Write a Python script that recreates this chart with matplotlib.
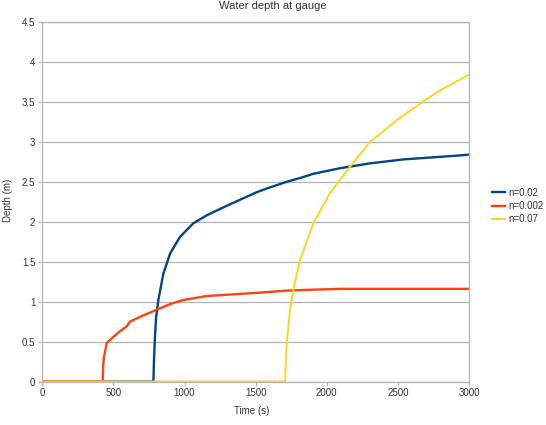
import matplotlib
matplotlib.use("Agg")
import matplotlib.pyplot as plt

plt.rcParams['font.family'] = ['Liberation Sans', 'DejaVu Sans']

# series (time in s, depth in m)
t_002 = [0, 781, 786, 792, 800, 816, 851, 898, 968, 1062, 1156, 1297, 1508, 1601,
         1719, 1836, 1906, 2094, 2164, 2300, 2539, 2700, 2937, 3000]
d_002 = [0, 0, 0.3, 0.56, 0.8, 1.02, 1.35, 1.6, 1.81, 1.98, 2.08, 2.2, 2.37, 2.43,
         2.5, 2.56, 2.6, 2.67, 2.69, 2.73, 2.78, 2.8, 2.83, 2.84]

t_0002 = [0, 425, 428, 433, 453, 488, 540, 593, 617, 700, 805, 900, 992, 1156,
          1508, 1742, 2094, 3000]
d_0002 = [0, 0, 0.2, 0.3, 0.48, 0.54, 0.62, 0.69, 0.75, 0.82, 0.9, 0.97, 1.02, 1.07,
          1.11, 1.14, 1.16, 1.16]

t_007 = [0, 1707, 1712, 1719, 1742, 1765, 1812, 1906, 2023, 2164, 2305, 2492,
         2633, 2774, 2937, 3000]
d_007 = [0, 0, 0.25, 0.48, 0.9, 1.15, 1.52, 1.98, 2.36, 2.69, 3.0, 3.27,
         3.45, 3.62, 3.78, 3.84]

labels = ["n=0.02", "n=0.002", "n=0.07"]
colors = ["#004586", "#ff420e", "#ffd320"]

fig = plt.figure(figsize=(5.46, 4.25), dpi=100)
ax = fig.add_axes([42.3 / 546, 1 - 381.5 / 425, (469 - 42.3) / 546, (381.5 - 22) / 425])

ax.plot(t_002, d_002, color=colors[0], lw=1.7, label=labels[0])
ax.plot(t_0002, d_0002, color=colors[1], lw=1.7, label=labels[1])
ax.plot(t_007, d_007, color=colors[2], lw=1.4, label=labels[2])

ax.set_xlim(0, 3000)
ax.set_ylim(0, 4.5)
ax.set_xticks(range(0, 3001, 500))
ax.set_yticks([0, 0.5, 1, 1.5, 2, 2.5, 3, 3.5, 4, 4.5])
ax.set_yticklabels(["0", "0.5", "1", "1.5", "2", "2.5", "3", "3.5", "4", "4.5"])
ax.yaxis.grid(True, color="#b3b3b3", lw=0.9)
ax.set_axisbelow(True)
for s in ax.spines.values():
    s.set_color("#b3b3b3")
    s.set_linewidth(0.9)
ax.tick_params(axis="both", labelsize=7, colors="#b3b3b3", labelcolor="#333333",
               length=3, width=0.9, pad=2)

fig.text(0.5, 1 - 9 / 425, "Water depth at gauge", ha="center", va="baseline",
         fontsize=8, color="#333333")
fig.text(252 / 546, 1 - 411 / 425, "Time (s)", ha="center", va="center",
         fontsize=7, color="#333333")
fig.text(8 / 546, 1 - 200 / 425, "Depth (m)", ha="center", va="center",
         rotation=90, fontsize=7, color="#333333")

leg = fig.legend(loc="center left", bbox_to_anchor=(487 / 546, 1 - 206 / 425),
                 frameon=False, fontsize=7, handlelength=1.3, handletextpad=0.4,
                 labelspacing=0.35, borderpad=0)
for txt in leg.get_texts():
    txt.set_color("#333333")

fig.savefig("out.png", dpi=100)
